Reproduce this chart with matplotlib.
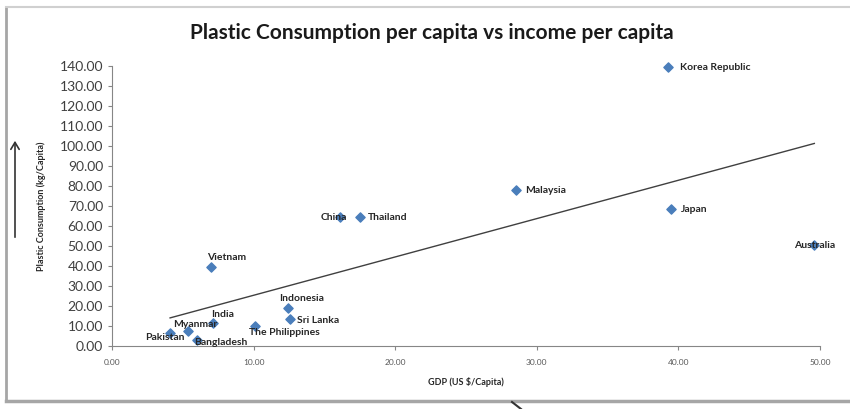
import numpy as np
import matplotlib
matplotlib.use("Agg")
import matplotlib.pyplot as plt
from matplotlib.lines import Line2D

plt.rcParams['font.family'] = ['Lato', 'DejaVu Sans']

# data
countries = ["Korea Republic", "Malaysia", "Japan", "Australia", "Thailand", "China",
             "Vietnam", "Indonesia", "Sri Lanka", "India", "The Philippines",
             "Myanmar", "Bangladesh", "Pakistan"]
gdp = [39.3, 28.5, 39.5, 49.6, 17.5, 16.1, 7.0, 12.4, 12.6, 7.1, 10.1, 5.4, 6.0, 4.1]
plastic = [139.5, 78.0, 68.5, 50.5, 64.5, 64.5, 39.5, 19.0, 13.5, 11.5, 10.0, 7.5, 3.0, 6.5]

x_ticks = [0, 10, 20, 30, 40, 50]
y_ticks = list(range(0, 141, 10))

# label placement (offset in points, horizontal alignment)
label_pos = {
    "Korea Republic": (8, 0, 'left'),
    "Malaysia": (7, 0, 'left'),
    "Japan": (7, 0, 'left'),
    "Australia": (0, 0, 'center'),
    "Thailand": (6, 0, 'left'),
    "China": (5, 0, 'right'),
    "Vietnam": (11, 7, 'center'),
    "Indonesia": (10, 7, 'center'),
    "Sri Lanka": (5, -1, 'left'),
    "India": (7, 6, 'center'),
    "The Philippines": (-4, -5, 'left'),
    "Myanmar": (5, 5, 'center'),
    "Bangladesh": (-2, -2, 'left'),
    "Pakistan": (-4, -3, 'center'),
}

fig = plt.figure(figsize=(8.5, 4.09), dpi=100)
ax = fig.add_axes([0.1318, 0.154, 0.8329, 0.6846])

# chart frame (screenshot border)
frame_col = '#a6a6a6'
fig.add_artist(Line2D([6/850, 6/850], [1 - 7/409, 1 - 401/409], transform=fig.transFigure, color=frame_col, lw=2))
fig.add_artist(Line2D([6/850, 1], [1 - 7/409, 1 - 7/409], transform=fig.transFigure, color='#d0d0d0', lw=1.5))
fig.add_artist(Line2D([6/850, 1], [1 - 401/409, 1 - 401/409], transform=fig.transFigure, color=frame_col, lw=2.5))

# hand drawn arrows
fig.add_artist(matplotlib.patches.FancyArrowPatch((15/850, 1 - 240/409), (15/850, 1 - 138/409),
                                                  transform=fig.transFigure, arrowstyle='->,head_width=3,head_length=5',
                                                  color='#333333', lw=1.2))
fig.add_artist(Line2D([512/850, 521/850], [1 - 402/409, 1 - 409/409], transform=fig.transFigure, color='#333333', lw=1.5))

ax.scatter(gdp, plastic, marker='D', s=22, color='#4a7ebb', zorder=3, clip_on=False)

# linear trend line
coef = np.polyfit(gdp, plastic, 1)
xs = np.array([min(gdp), max(gdp)])
ax.plot(xs, np.polyval(coef, xs), color='#404040', lw=1.0, zorder=2)

for name, x, y in zip(countries, gdp, plastic):
    dx, dy, ha = label_pos[name]
    ax.annotate(name, (x, y), xytext=(dx, dy), textcoords='offset points',
                ha=ha, va='center', fontsize=7.5, fontweight='bold', color='#262626', zorder=4)

ax.set_xlim(0, 50)
ax.set_ylim(0, 140)
ax.set_xticks(x_ticks)
ax.set_yticks(y_ticks)
ax.set_xticklabels(['%.2f' % v for v in x_ticks], fontsize=6, color='#595959')
ax.set_yticklabels(['%.2f' % v for v in y_ticks], fontsize=10, color='#404040')
for s in ['top', 'right']:
    ax.spines[s].set_visible(False)
for s in ['left', 'bottom']:
    ax.spines[s].set_color('#868686')
ax.tick_params(axis='both', direction='out', length=3, color='#868686')
ax.tick_params(axis='x', pad=6)

ax.set_xlabel('GDP (US $/Capita)', fontsize=6.5, fontweight='bold', color='#262626', labelpad=8)
ax.set_ylabel('Plastic Consumption (kg/Capita)', fontsize=6.5, fontweight='bold', color='#262626', labelpad=10)

fig.text(0.508, 1 - 33/409, 'Plastic Consumption per capita vs income per capita',
         ha='center', va='center', fontsize=15, fontweight='bold', color='#1a1a1a')

fig.savefig('out.png', dpi=100)
